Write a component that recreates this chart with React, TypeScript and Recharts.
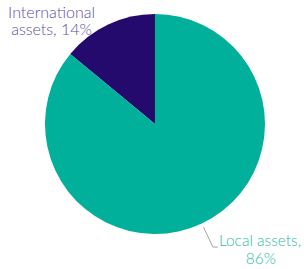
import { Pie, PieChart, Cell } from "recharts";

const categories = ["International assets", "Local assets"];
const shares = [14, 86];
const COLORS = ["#250a6e", "#00b09b"];
const LABEL_COLORS = ["#5e4f9f", "#2fbba7"];

const data = categories.map((name, i) => ({ name, value: shares[i] }));

const RADIAN = Math.PI / 180;

function renderLabel(props: any) {
  const { cx, cy, midAngle, outerRadius, index, name, value } = props;
  const font = { fontFamily: "Lato", fontWeight: 300, fontSize: 16 };
  if (index === 0) {
    // label sits up and left of the small slice, no leader line
    const x = cx - outerRadius * 0.94;
    const y = cy - outerRadius * 0.96;
    return (
      <text x={x} y={y} fill={LABEL_COLORS[0]} textAnchor="middle" style={font}>
        <tspan x={x} dy={0}>International</tspan>
        <tspan x={x} dy={17}>{`assets, ${value}%`}</tspan>
      </text>
    );
  }
  const cos = Math.cos(-midAngle * RADIAN);
  const sin = Math.sin(-midAngle * RADIAN);
  const sx = cx + (outerRadius + 4) * cos;
  const sy = cy + (outerRadius + 4) * sin;
  const mx = cx + (outerRadius + 26) * cos;
  const my = cy + (outerRadius + 26) * sin;
  const ex = mx + 5;
  const tx = ex + 1;
  return (
    <g>
      <path d={`M${sx},${sy}L${mx},${my}L${ex},${my}`} stroke="#a6a6a6" fill="none" strokeWidth={1} />
      <text x={tx} y={my} fill={LABEL_COLORS[1]} textAnchor="start" style={{ ...font, fontSize: 15.5 }}>
        <tspan x={tx} dy={-1}>{name + ","}</tspan>
        <tspan x={tx + 42} dy={18} textAnchor="middle">{`${value}%`}</tspan>
      </text>
    </g>
  );
}

export default function App() {
  return (
    <div style={{ position: "absolute", left: 0, top: 0, background: "#fff" }}>
      <PieChart width={304} height={269} margin={{ top: 0, right: 0, bottom: 0, left: 0 }}>
        <Pie
          data={data}
          dataKey="value"
          nameKey="name"
          cx={155}
          cy={124}
          outerRadius={110}
          startAngle={90}
          endAngle={450}
          stroke="none"
          label={renderLabel}
          labelLine={false}
          isAnimationActive={false}
        >
          {data.map((_, i) => (
            <Cell key={i} fill={COLORS[i]} />
          ))}
        </Pie>
      </PieChart>
    </div>
  );
}
